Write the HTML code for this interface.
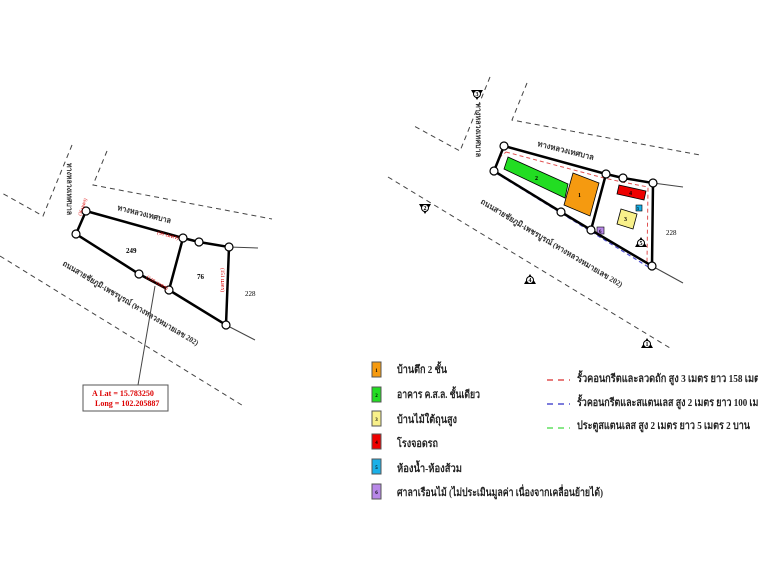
<!DOCTYPE html>
<html><head><meta charset="utf-8"><style>
html,body{margin:0;padding:0;background:#fff;}
svg{display:block;}
text{font-family:"Liberation Serif","Noto Serif CJK SC",serif;}
.th{font-family:"Liberation Serif","Noto Sans CJK SC",sans-serif;font-weight:bold;}
</style></head><body>
<svg width="758" height="564" viewBox="0 0 758 564" xmlns="http://www.w3.org/2000/svg">
<g fill="none" stroke="#444" stroke-width="1" stroke-dasharray="5,4">
<polyline points="72,145 43,216 0,192"/>
<polyline points="107,151 93,185 272,219"/>
<line x1="0" y1="256" x2="245" y2="407"/>
<polyline points="490,77 460,151 414,126"/>
<polyline points="527,83 512,120 700,155"/>
<line x1="388" y1="177" x2="670" y2="348"/>
</g>
<g stroke="#444" stroke-width="1">
<line x1="229" y1="247" x2="258" y2="248"/>
<line x1="226" y1="325" x2="255" y2="340"/>
<line x1="155" y1="286" x2="138" y2="385"/>
<line x1="653" y1="183" x2="683" y2="187"/>
<line x1="652" y1="266" x2="683" y2="283"/>
</g>
<g fill="none" stroke="#000" stroke-width="2.5">
<polygon points="86,211 183,238 169,290 139,274 76,234"/>
<polyline points="183,238 199,242 229,247 226,325 169,290"/>
</g>
<g fill="#fff" stroke="#000" stroke-width="1.2">
<circle cx="86" cy="211" r="4"/><circle cx="76" cy="234" r="4"/><circle cx="183" cy="238" r="4"/>
<circle cx="199" cy="242" r="4"/><circle cx="229" cy="247" r="4"/><circle cx="226" cy="325" r="4"/>
<circle cx="169" cy="290" r="4"/><circle cx="139" cy="274" r="4"/>
</g>
<g font-size="7" fill="#000">
<text x="126" y="253" font-weight="bold">249</text>
<text x="197" y="279" font-weight="bold">76</text>
<text x="245" y="296">228</text>
</g>
<g font-size="5" fill="#d00">
<text transform="translate(157,234) rotate(15)" textLength="22" lengthAdjust="spacingAndGlyphs">(90 เมตร)</text>
<text transform="translate(146,278) rotate(30)" textLength="24" lengthAdjust="spacingAndGlyphs">(110 เมตร)</text>
<text transform="translate(221,268) rotate(90)" textLength="24" lengthAdjust="spacingAndGlyphs">(151 เมตร)</text>
<text transform="translate(81,216) rotate(-70)" textLength="18" lengthAdjust="spacingAndGlyphs">(36 เมตร)</text>
</g>
<g font-size="8" fill="#333" class="th">
<text transform="translate(117,210) rotate(14)" textLength="55" lengthAdjust="spacingAndGlyphs">ทางหลวงเทศบาล</text>
<text transform="translate(67,163) rotate(90)" textLength="52" lengthAdjust="spacingAndGlyphs">ทางหลวงเทศบาล</text>
<text transform="translate(62,265) rotate(31)" textLength="157" lengthAdjust="spacingAndGlyphs">ถนนสายชัยภูมิ-เพชรบูรณ์ (ทางหลวงหมายเลข 202)</text>
</g>
<rect x="83" y="385" width="85" height="26" fill="#fff" stroke="#555"/>
<text x="92" y="396" font-size="8" fill="#d00" font-weight="bold">A Lat  = 15.783250</text>
<text x="95" y="406" font-size="8" fill="#d00" font-weight="bold">Long  = 102.205887</text>

<polygon points="508,157 568,184 565,198 504,169" fill="#22dd22" stroke="#000" stroke-width="0.8"/>
<polygon points="573,173 599,183 590,216 564,205" fill="#f59a10" stroke="#000" stroke-width="0.8"/>
<polygon points="619,185 646,191 644,200 617,194" fill="#e00" stroke="#000" stroke-width="0.8"/>
<polygon points="621,209 637,214 633,229 617,224" fill="#f8f08a" stroke="#000" stroke-width="0.8"/>
<rect x="636" y="205" width="6" height="6" fill="#1ab0e8" stroke="#000" stroke-width="0.6"/>
<rect x="597" y="227" width="7" height="7" fill="#b888e8" stroke="#000" stroke-width="0.6"/>
<g font-size="6" font-weight="bold" fill="#000">
<text x="535" y="180">2</text><text x="578" y="197">1</text><text x="629" y="195">4</text>
<text x="624" y="221">3</text><text x="637" y="210" font-size="4">5</text><text x="599" y="233" font-size="5">6</text>
</g>
<polyline points="506,152 604,178 622,182 648,187 647,263" fill="none" stroke="#e05050" stroke-width="1" stroke-dasharray="4,3"/>
<line x1="499" y1="158" x2="506" y2="152" stroke="#e05050" stroke-dasharray="4,3"/>
<line x1="496" y1="173" x2="650" y2="268" stroke="#5050d0" stroke-width="1.2" stroke-dasharray="4,3"/>
<g fill="none" stroke="#000" stroke-width="2.5">
<polygon points="504,146 606,174 591,230 561,212 494,171"/>
<polyline points="606,174 623,178 653,183 652,266 591,230"/>
</g>
<g fill="#fff" stroke="#000" stroke-width="1.2">
<circle cx="504" cy="146" r="4"/><circle cx="494" cy="171" r="4"/><circle cx="606" cy="174" r="4"/>
<circle cx="623" cy="178" r="4"/><circle cx="653" cy="183" r="4"/><circle cx="652" cy="266" r="4"/>
<circle cx="591" cy="230" r="4"/><circle cx="561" cy="212" r="4"/>
</g>
<text x="666" y="235" font-size="7" fill="#000">228</text>
<g font-size="8" fill="#333" class="th">
<text transform="translate(537,146) rotate(14)" textLength="58" lengthAdjust="spacingAndGlyphs">ทางหลวงเทศบาล</text>
<text transform="translate(476,103) rotate(90)" textLength="54" lengthAdjust="spacingAndGlyphs">ทางหลวงเทศบาล</text>
<text transform="translate(480,203) rotate(31)" textLength="164" lengthAdjust="spacingAndGlyphs">ถนนสายชัยภูมิ-เพชรบูรณ์ (ทางหลวงหมายเลข 202)</text>
</g>
<g font-size="6" font-weight="bold" fill="#000" text-anchor="middle">
<g transform="translate(477,94)"><polygon points="-6,-4 6,-4 0,6" fill="#000"/><circle r="3.5" fill="#fff" stroke="#000"/><text y="2">3</text></g>
<g transform="translate(425,208)"><polygon points="-6,-4 6,-4 0,6" fill="#000"/><circle r="3.5" fill="#fff" stroke="#000"/><text y="2">2</text></g>
<g transform="translate(530,280)"><polygon points="-6,4 6,4 0,-6" fill="#000"/><circle r="3.5" fill="#fff" stroke="#000"/><text y="2">4</text></g>
<g transform="translate(647,344)"><polygon points="-6,4 6,4 0,-6" fill="#000"/><circle r="3.5" fill="#fff" stroke="#000"/><text y="2">1</text></g>
<g transform="translate(641,243)"><polygon points="-6,4 6,4 0,-6" fill="#000"/><circle r="3.5" fill="#fff" stroke="#000"/><text y="2">5</text></g>
</g>
<g stroke="#555" stroke-width="1">
<rect x="372" y="362" width="9" height="15" fill="#f59a10"/>
<rect x="372" y="387" width="9" height="15" fill="#22dd22"/>
<rect x="372" y="411" width="9" height="15" fill="#f8f08a"/>
<rect x="372" y="434" width="9" height="15" fill="#e00"/>
<rect x="372" y="459" width="9" height="15" fill="#1ab0e8"/>
<rect x="372" y="484" width="9" height="15" fill="#b888e8"/>
</g>
<g font-size="5" font-weight="bold" fill="#000" text-anchor="middle">
<text x="376.5" y="372">1</text><text x="376.5" y="397">2</text><text x="376.5" y="421">3</text>
<text x="376.5" y="444">4</text><text x="376.5" y="469">5</text><text x="376.5" y="494">6</text>
</g>
<g font-size="11" fill="#222" class="th">
<text x="397" y="373" textLength="50" lengthAdjust="spacingAndGlyphs">บ้านตึก 2 ชั้น</text>
<text x="397" y="398" textLength="83" lengthAdjust="spacingAndGlyphs">อาคาร ค.ส.ล. ชั้นเดียว</text>
<text x="397" y="423" textLength="60" lengthAdjust="spacingAndGlyphs">บ้านไม้ใต้ถุนสูง</text>
<text x="397" y="447" textLength="41" lengthAdjust="spacingAndGlyphs">โรงจอดรถ</text>
<text x="397" y="472" textLength="65" lengthAdjust="spacingAndGlyphs">ห้องน้ำ-ห้องส้วม</text>
<text x="397" y="496" textLength="206" lengthAdjust="spacingAndGlyphs">ศาลาเรือนไม้ (ไม่ประเมินมูลค่า เนื่องจากเคลื่อนย้ายได้)</text>
<text x="577" y="382" textLength="188" lengthAdjust="spacingAndGlyphs">รั้วคอนกรีตและลวดถัก สูง 3 เมตร ยาว 158 เมตร</text>
<text x="577" y="406" textLength="192" lengthAdjust="spacingAndGlyphs">รั้วคอนกรีตและสแตนเลส สูง 2 เมตร ยาว 100 เมตร</text>
<text x="577" y="429" textLength="173" lengthAdjust="spacingAndGlyphs">ประตูสแตนเลส สูง 2 เมตร ยาว 5 เมตร 2 บาน</text>
</g>
<g stroke-width="1.5" stroke-dasharray="6,5">
<line x1="547" y1="380" x2="570" y2="380" stroke="#e05050"/>
<line x1="547" y1="404" x2="570" y2="404" stroke="#5050d0"/>
<line x1="547" y1="428" x2="570" y2="428" stroke="#60e060"/>
</g>
</svg>
</body></html>
